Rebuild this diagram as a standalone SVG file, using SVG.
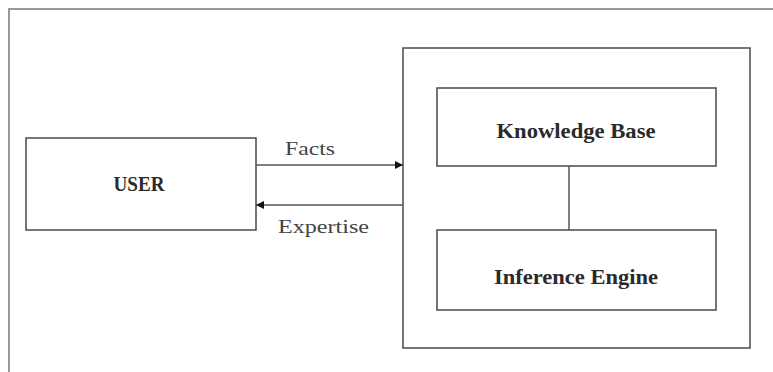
<svg xmlns="http://www.w3.org/2000/svg" width="773" height="372" viewBox="0 0 773 372">
<style>
.box{fill:none;stroke:#4a4a4a;stroke-width:1.5}
.frame{fill:none;stroke:#9a9a9a;stroke-width:2}
.lbl{font-family:"Liberation Serif","Times New Roman",serif;font-weight:bold;fill:#2a2a2a;text-anchor:middle}
.edge{font-family:"Liberation Serif","Times New Roman",serif;fill:#444;font-size:18px}
.conn{stroke:#555;stroke-width:1.5;fill:none}
</style>
<defs>
<marker id="ah" viewBox="0 0 10 10" refX="10" refY="5" markerWidth="8" markerHeight="8" markerUnits="userSpaceOnUse" orient="auto">
<path d="M0,0 L10,5 L0,10 z" fill="#111"/>
</marker>
</defs>
<rect width="773" height="372" fill="#fff"/>
<path class="frame" d="M9,372 V9 H773"/>
<g id="user">
<rect class="box" x="26" y="138" width="230" height="92"/>
<text class="lbl" x="139" y="191" font-size="20" textLength="51" lengthAdjust="spacingAndGlyphs">USER</text>
</g>
<g id="system">
<rect class="box" x="403" y="48" width="347" height="300"/>
</g>
<g id="knowledge-base">
<rect class="box" x="437" y="88" width="279" height="78"/>
<text class="lbl" x="576" y="138" font-size="20" textLength="159" lengthAdjust="spacingAndGlyphs">Knowledge Base</text>
</g>
<g id="inference-engine">
<rect class="box" x="437" y="230" width="279" height="80"/>
<text class="lbl" x="576" y="284" font-size="20" textLength="164" lengthAdjust="spacingAndGlyphs">Inference Engine</text>
</g>
<g id="connectors">
<line class="conn" x1="256" y1="165" x2="403" y2="165" marker-end="url(#ah)"/>
<line class="conn" x1="403" y1="205" x2="256" y2="205" marker-end="url(#ah)"/>
<line class="conn" x1="569" y1="166" x2="569" y2="230"/>
<text class="edge" x="285" y="155" textLength="50" lengthAdjust="spacingAndGlyphs">Facts</text>
<text class="edge" x="278" y="233" textLength="91" lengthAdjust="spacingAndGlyphs">Expertise</text>
</g>
</svg>
